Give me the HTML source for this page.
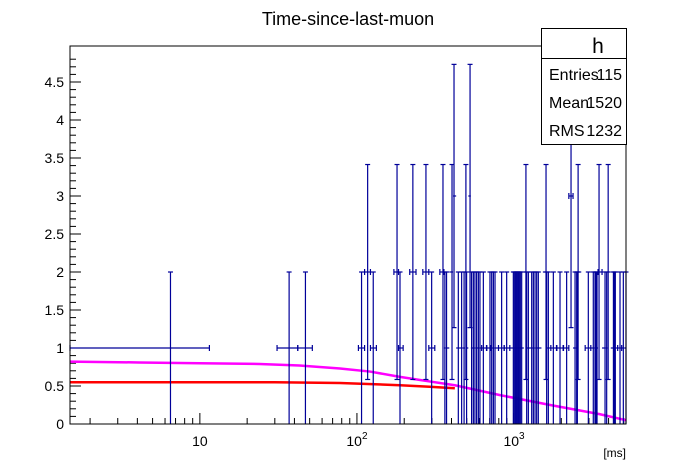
<!DOCTYPE html>
<html><head><meta charset="utf-8">
<style>
body{margin:0;background:#fff;}
svg{display:block;font-family:"Liberation Sans",Arial,sans-serif;}
</style></head>
<body>
<svg id="c" width="696" height="472" viewBox="0 0 696 472">
<rect width="696" height="472" fill="#fff"/>
<text x="348" y="25" font-size="18" text-anchor="middle">Time-since-last-muon</text>
<g id="plot"></g>
<rect x="70" y="46" width="556" height="378" fill="none" stroke="#000" stroke-width="1"/>
<text x="626" y="457" font-size="12" text-anchor="end">[ms]</text>
<g>
<rect x="541.5" y="28.5" width="85" height="116" fill="#fff" stroke="#000"/>
<line x1="541.5" y1="58.5" x2="626.5" y2="58.5" stroke="#000"/>
<text x="598" y="53" font-size="21" text-anchor="middle">h</text>
<text x="549" y="80" font-size="16">Entries</text>
<text x="622" y="80" font-size="16" text-anchor="end">115</text>
<text x="549" y="108" font-size="16">Mean</text>
<text x="622" y="108" font-size="16" text-anchor="end">1520</text>
<text x="549" y="136" font-size="16">RMS</text>
<text x="622" y="136" font-size="16" text-anchor="end">1232</text>
</g>
</svg>
<script>
const xPoints=[6.5,37,47,107,117,127,180,188,227,275,299,353,363,372,403,415,442,464,481,494,499,525,537,551,564,578,593,607,638,703,721,739,757,834,898,990,1004,1020,1035,1050,1066,1081,1097,1119,1191,1204,1234,1296,1328,1361,1394,1428,1599,1614,1654,1780,1963,2163,2307,2447,2506,2531,2559,2972,3197,3278,3327,3377,3478,3798,3890,3976,4294,4355,4416,4730,4966,5164];
const yCounts=[1,1,1,1,2,1,2,1,2,2,1,2,1,1,2,3,1,1,1,2,1,3,1,1,1,1,1,1,1,1,1,1,1,1,1,1,1,1,1,1,1,1,1,1,2,1,1,1,1,1,1,1,2,1,1,1,1,1,3,1,1,1,2,1,1,1,1,1,2,1,1,2,1,1,1,1,1,1];
const xLowEdge=[1.49,31,42];
const xHighEdge=[11.5,42,52];
const magX=[1.49,4.1,10,24,43,78,121,188,290,420,815,1700,3500,5160];
const magY=[0.82,0.81,0.80,0.79,0.77,0.73,0.69,0.62,0.56,0.51,0.38,0.25,0.13,0.05];
const redX=[1.49,30,78,188,290,420];
const redY=[0.55,0.55,0.54,0.51,0.49,0.47];
const yTicks=[0,0.5,1,1.5,2,2.5,3,3.5,4,4.5];
const xTickLabels=[10,100,1000];

const NS="http://www.w3.org/2000/svg";
const X0=70,X1=626,Y0=424,Y1=46;
const LMIN=Math.log10(1.49),LMAX=Math.log10(5164);
const ymax=(Y0-Y1)/76;
function sx(v){return X0+(Math.log10(v)-LMIN)/(LMAX-LMIN)*(X1-X0);}
function sy(v){return Y0-v/ymax*(Y0-Y1);}
const svg=document.getElementById('c');
const plot=document.getElementById('plot');
function mk(t,a,p){const e=document.createElementNS(NS,t);for(const k in a)e.setAttribute(k,a[k]);(p||plot).appendChild(e);return e;}

for(let i=0;i<=48;i++){const v=i*0.1;const y=sy(v);const major=(i%5===0);
 const t=mk('line',{x1:X0,x2:X0+(major?11:6),y1:y,y2:y,stroke:'#000'});
 
 }
yTicks.forEach(v=>{const t=mk('text',{x:X0-6,y:sy(v)+5,'font-size':14,'text-anchor':'end'},svg);t.textContent=String(v);
 
 });
for(let d=0;d<=3;d++){for(let m=1;m<=9;m++){const v=m*Math.pow(10,d);if(v<1.49||v>5164)continue;const x=sx(v);
 const t=mk('line',{x1:x,x2:x,y1:Y0,y2:Y0-(m===1?11:6),stroke:'#000'});
 
 }}
xTickLabels.forEach(v=>{const x=sx(v);const t=mk('text',{x:x,y:446,'font-size':14,'text-anchor':'middle'},svg);
 if(v===10)t.textContent='10';else{t.textContent='10';const s=document.createElementNS(NS,'tspan');s.setAttribute('dy','-7');s.setAttribute('font-size','10');s.textContent=String(Math.round(Math.log10(v)));t.appendChild(s);}
 
 });

function curve(xs,ys,color,name){let d='';for(let i=0;i<xs.length;i++){d+=(i===0?'M':'L')+sx(xs[i])+','+sy(ys[i])+' ';}
 const p=mk('path',{d:d,fill:'none',stroke:color,'stroke-width':2.5});
 
 }
curve(magX,magY,'#ff00ff','magenta-fit-curve');
curve(redX,redY,'#ff0000','red-fit-curve');

const col='#000099';
xPoints.forEach((xv,i)=>{const yv=yCounts[i];const e=Math.sqrt(yv);const g=mk('g',{stroke:col,'stroke-width':1.2});
 
 
 const L=Math.log10(xv);
 let lo,hi;
 if(i<xLowEdge.length){lo=Math.log10(xLowEdge[i]);hi=Math.log10(xHighEdge[i]);}
 else{lo=Math.max((L+Math.log10(xPoints[i-1]))/2,L-0.02);hi=i===xPoints.length-1?L:Math.min((L+Math.log10(xPoints[i+1]))/2,L+0.02);}
 const xl=sx(Math.pow(10,lo)),xh=sx(Math.pow(10,hi)),x=sx(xv),y=sy(yv);
 const yl=sy(Math.max(0,yv-e)),yh=sy(yv+e);
 mk('line',{x1:x,x2:x,y1:yl,y2:yh},g);
 mk('line',{x1:x-2.5,x2:x+2.5,y1:yh,y2:yh},g);
 if(yv-e>0)mk('line',{x1:x-2.5,x2:x+2.5,y1:yl,y2:yl},g);
 mk('line',{x1:xl,x2:xh,y1:y,y2:y},g);
 if(xh-xl>4){mk('line',{x1:xl,x2:xl,y1:y-3,y2:y+3},g);mk('line',{x1:xh,x2:xh,y1:y-3,y2:y+3},g);}
});
</script>
</body></html>
